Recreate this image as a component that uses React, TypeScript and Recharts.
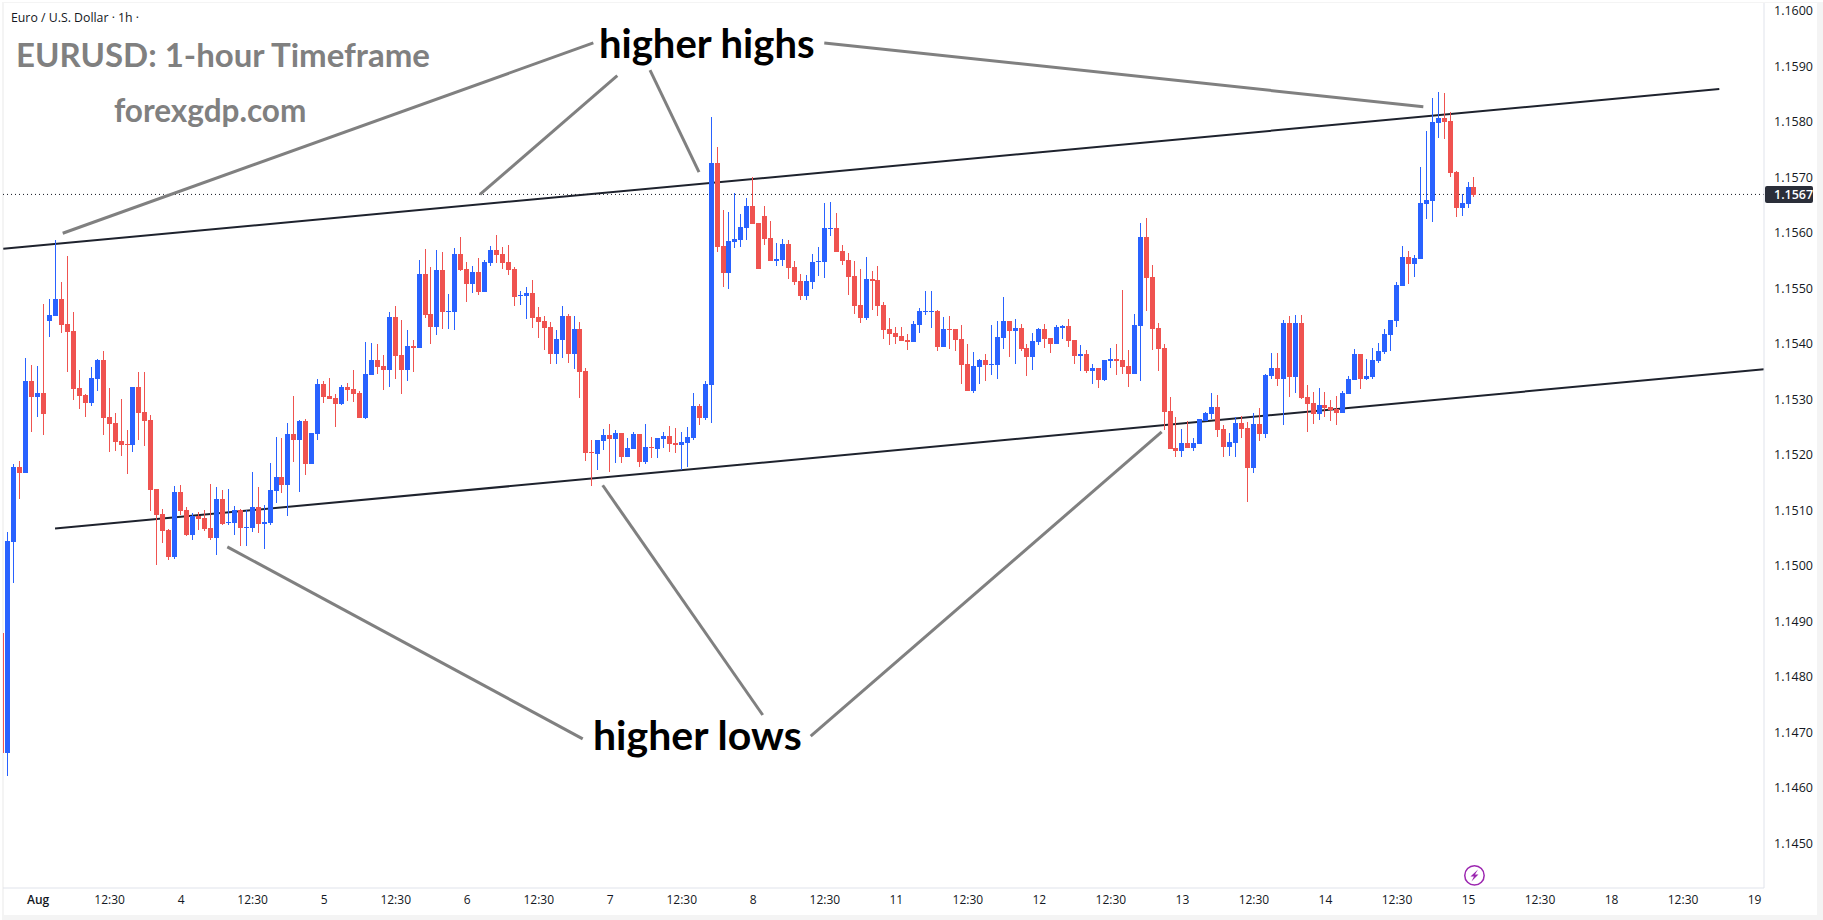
import {
  Bar,
  ComposedChart,
  ReferenceDot,
  ReferenceLine,
  XAxis,
  YAxis,
} from "recharts";

const UP_COLOR = "#2962ff";
const DOWN_COLOR = "#ef5350";
const TEXT_COLOR = "#131722";
const AXIS_COLOR = "#e0e3eb";
const NOTE_COLOR = "#808080";
const UI_FONT = "'Open Sans', sans-serif";
const NOTE_FONT = "Lato, sans-serif";

// candles, first one is half cut off by the left edge of the pane
const opens = [
  1.14879, 1.14662, 1.15043, 1.15178, 1.15167, 1.15333, 1.15304, 1.15311, 1.15441, 1.1545,
  1.15481, 1.15435, 1.15423, 1.1532, 1.15308, 1.15293, 1.15336, 1.15371, 1.15268, 1.15257,
  1.15225, 1.15219, 1.15218, 1.15322, 1.15277, 1.15263, 1.15138, 1.15093, 1.15064, 1.15016,
  1.15133, 1.151, 1.15055, 1.1509, 1.15086, 1.15068, 1.1505, 1.1512, 1.15077, 1.15077,
  1.151, 1.15068, 1.15068, 1.15106, 1.15075, 1.15077, 1.15135, 1.1516, 1.15145, 1.15237,
  1.15226, 1.15261, 1.15183, 1.15237, 1.15327, 1.15306, 1.15302, 1.15291, 1.15322, 1.15318,
  1.15311, 1.15266, 1.15344, 1.15371, 1.1536, 1.15353, 1.15448, 1.1538, 1.15353, 1.15396,
  1.15392, 1.15526, 1.15454, 1.1543, 1.15533, 1.15457, 1.15457, 1.15562, 1.15535, 1.15508,
  1.15529, 1.15493, 1.15545, 1.15569, 1.15562, 1.15547, 1.15535, 1.15486, 1.15486, 1.15491,
  1.15448, 1.15441, 1.1543, 1.15381, 1.15407, 1.1545, 1.15381, 1.15427, 1.15351, 1.15205,
  1.15201, 1.15225, 1.15236, 1.15228, 1.15239, 1.15196, 1.1521, 1.15237, 1.15187, 1.15214,
  1.1521, 1.15228, 1.15234, 1.15221, 1.15218, 1.15221, 1.1523, 1.15288, 1.15266, 1.15326,
  1.15726, 1.15576, 1.15527, 1.15583, 1.15587, 1.15609, 1.15648, 1.15618, 1.1563, 1.1559,
  1.15549, 1.15551, 1.1558, 1.15538, 1.15513, 1.15486, 1.15511, 1.15547, 1.15547, 1.15607,
  1.15609, 1.15567, 1.15551, 1.15522, 1.1547, 1.15446, 1.15517, 1.15515, 1.1547, 1.15427,
  1.15419, 1.15414, 1.15407, 1.15403, 1.15434, 1.15457, 1.15457, 1.15459, 1.15394, 1.15427,
  1.15427, 1.15409, 1.15363, 1.15315, 1.15358, 1.15371, 1.15362, 1.15362, 1.1541, 1.15441,
  1.15423, 1.15428, 1.15392, 1.15376, 1.15403, 1.15427, 1.1541, 1.154, 1.15428, 1.15432,
  1.15407, 1.15378, 1.15381, 1.15351, 1.15356, 1.15335, 1.15369, 1.15372, 1.15371, 1.1536,
  1.15345, 1.15432, 1.15592, 1.1552, 1.15428, 1.15392, 1.15279, 1.15212, 1.15207, 1.15221,
  1.15212, 1.15219, 1.15261, 1.15273, 1.15286, 1.15246, 1.15214, 1.15221, 1.15257, 1.15248,
  1.15176, 1.15255, 1.15237, 1.15342, 1.15356, 1.15336, 1.15437, 1.1534, 1.15437, 1.15304,
  1.15293, 1.15273, 1.15289, 1.15286, 1.15282, 1.15275, 1.15309, 1.15335, 1.15381, 1.15336,
  1.1534, 1.15369, 1.15385, 1.15416, 1.15441, 1.15504, 1.15556, 1.15544, 1.15553, 1.15652,
  1.15657, 1.15798, 1.15807, 1.15801, 1.15709, 1.15645, 1.15652, 1.15682,
];

const highs = [
  1.14879, 1.15061, 1.15183, 1.15189, 1.15374, 1.15362, 1.1536, 1.15472, 1.15481, 1.15587,
  1.15511, 1.15558, 1.15457, 1.15353, 1.15309, 1.15358, 1.15372, 1.15387, 1.1532, 1.15275,
  1.153, 1.15245, 1.15322, 1.15349, 1.15349, 1.15272, 1.15138, 1.15102, 1.15066, 1.15144,
  1.15145, 1.15106, 1.15095, 1.15097, 1.151, 1.15147, 1.15142, 1.15136, 1.15138, 1.15108,
  1.15102, 1.151, 1.15169, 1.15142, 1.15109, 1.15185, 1.15232, 1.1523, 1.15257, 1.15306,
  1.15263, 1.15264, 1.15239, 1.15336, 1.15333, 1.15338, 1.15309, 1.15326, 1.15329, 1.15353,
  1.15315, 1.15403, 1.15401, 1.15399, 1.1538, 1.15457, 1.15468, 1.15443, 1.15425, 1.15407,
  1.15551, 1.15571, 1.15538, 1.15569, 1.15565, 1.1549, 1.15572, 1.15592, 1.15547, 1.1554,
  1.15554, 1.15551, 1.15576, 1.15596, 1.15574, 1.15578, 1.15538, 1.15495, 1.15502, 1.15515,
  1.15466, 1.1545, 1.15439, 1.15425, 1.15468, 1.15454, 1.1545, 1.15439, 1.15356, 1.15227,
  1.15227, 1.15246, 1.15255, 1.15245, 1.15239, 1.1523, 1.15241, 1.15237, 1.15255, 1.15232,
  1.1523, 1.15241, 1.15252, 1.15248, 1.15241, 1.1525, 1.15311, 1.15291, 1.15333, 1.15809,
  1.15754, 1.15641, 1.15637, 1.15672, 1.15634, 1.15663, 1.157, 1.15618, 1.15648, 1.15621,
  1.15581, 1.15589, 1.15587, 1.15549, 1.15526, 1.15524, 1.15562, 1.15574, 1.15654, 1.15655,
  1.15636, 1.15578, 1.15563, 1.15549, 1.15535, 1.15556, 1.15531, 1.1554, 1.15475, 1.15446,
  1.1543, 1.1543, 1.15418, 1.15441, 1.15464, 1.15495, 1.15495, 1.15461, 1.15448, 1.1545,
  1.15427, 1.15434, 1.154, 1.15385, 1.15372, 1.15381, 1.15434, 1.15441, 1.15484, 1.15441,
  1.15444, 1.15436, 1.154, 1.15419, 1.15428, 1.15436, 1.1541, 1.15434, 1.15434, 1.15444,
  1.15407, 1.15398, 1.15389, 1.15363, 1.15356, 1.15371, 1.15392, 1.154, 1.15497, 1.15389,
  1.15453, 1.15617, 1.15626, 1.15542, 1.15437, 1.154, 1.15304, 1.15268, 1.15246, 1.1526,
  1.1523, 1.15264, 1.15277, 1.15311, 1.15308, 1.15253, 1.15239, 1.15268, 1.1527, 1.15259,
  1.15275, 1.15284, 1.15345, 1.15383, 1.15383, 1.15443, 1.1545, 1.15452, 1.15452, 1.15326,
  1.15313, 1.1532, 1.15313, 1.15299, 1.15306, 1.15315, 1.15342, 1.1539, 1.15381, 1.15372,
  1.15392, 1.15401, 1.15426, 1.15443, 1.15511, 1.15576, 1.15567, 1.1556, 1.15718, 1.15783,
  1.15843, 1.15854, 1.15852, 1.15817, 1.15711, 1.1567, 1.15691, 1.157,
];

const lows = [
  1.14662, 1.14622, 1.14969, 1.15121, 1.15167, 1.15241, 1.15268, 1.15236, 1.15412, 1.1545,
  1.15419, 1.15349, 1.15299, 1.15282, 1.15268, 1.15288, 1.15315, 1.15236, 1.15205, 1.15207,
  1.15198, 1.15165, 1.15205, 1.15226, 1.15216, 1.15099, 1.15001, 1.15041, 1.1501, 1.15012,
  1.15091, 1.15054, 1.15046, 1.15064, 1.15063, 1.15046, 1.15019, 1.15073, 1.15073, 1.15055,
  1.15035, 1.15035, 1.15061, 1.15059, 1.1503, 1.15073, 1.15113, 1.15131, 1.1509, 1.15187,
  1.15133, 1.15163, 1.15183, 1.15226, 1.15293, 1.153, 1.1525, 1.15289, 1.15297, 1.15295,
  1.15266, 1.15264, 1.15344, 1.15345, 1.15317, 1.15322, 1.15336, 1.15309, 1.15333, 1.15349,
  1.15392, 1.15446, 1.15399, 1.15416, 1.15427, 1.15427, 1.15425, 1.15531, 1.15475, 1.15491,
  1.15488, 1.15493, 1.1554, 1.15545, 1.15535, 1.15524, 1.15468, 1.1547, 1.15445, 1.15428,
  1.1541, 1.15389, 1.15363, 1.15363, 1.15374, 1.15365, 1.15354, 1.15302, 1.15189, 1.15144,
  1.15172, 1.15209, 1.15169, 1.15185, 1.15185, 1.15196, 1.1521, 1.15178, 1.15183, 1.15194,
  1.15194, 1.15212, 1.15205, 1.15203, 1.15172, 1.15178, 1.15227, 1.15253, 1.15262, 1.15257,
  1.15565, 1.15502, 1.15499, 1.15572, 1.15574, 1.15587, 1.15616, 1.15535, 1.15578, 1.15549,
  1.1554, 1.1554, 1.15517, 1.15506, 1.15479, 1.15479, 1.15499, 1.15522, 1.15518, 1.15594,
  1.15565, 1.15542, 1.15488, 1.15453, 1.15437, 1.15443, 1.15461, 1.1545, 1.15409, 1.15398,
  1.154, 1.15405, 1.15389, 1.15403, 1.15419, 1.15452, 1.15428, 1.15387, 1.15394, 1.1539,
  1.15387, 1.15327, 1.15315, 1.15311, 1.15327, 1.15333, 1.15344, 1.15336, 1.1539, 1.15376,
  1.15363, 1.15387, 1.15342, 1.15353, 1.15398, 1.15392, 1.15383, 1.154, 1.15409, 1.15394,
  1.15363, 1.15351, 1.15347, 1.15327, 1.1532, 1.15333, 1.15356, 1.15344, 1.15345, 1.15322,
  1.15345, 1.15333, 1.15459, 1.15389, 1.15351, 1.15245, 1.1521, 1.15196, 1.15196, 1.15212,
  1.15207, 1.15219, 1.15261, 1.15264, 1.15232, 1.15196, 1.15198, 1.15196, 1.1523, 1.15115,
  1.15167, 1.15225, 1.1523, 1.15336, 1.15324, 1.15253, 1.15304, 1.15311, 1.153, 1.15241,
  1.15255, 1.15262, 1.15268, 1.15261, 1.15253, 1.15275, 1.15309, 1.15335, 1.15318, 1.15335,
  1.15336, 1.15365, 1.15381, 1.15387, 1.1543, 1.15504, 1.15508, 1.1552, 1.15553, 1.15625,
  1.15619, 1.15771, 1.15769, 1.157, 1.15628, 1.1563, 1.15645, 1.15664,
];

const closes = [
  1.14662, 1.15045, 1.15178, 1.15167, 1.15333, 1.15304, 1.15311, 1.15273, 1.15452, 1.15481,
  1.15434, 1.15421, 1.15318, 1.15306, 1.15293, 1.15338, 1.15371, 1.15266, 1.15255, 1.15223,
  1.15218, 1.15218, 1.15322, 1.15275, 1.15261, 1.15136, 1.15091, 1.15063, 1.15016, 1.15133,
  1.15099, 1.15055, 1.1509, 1.15084, 1.15066, 1.1505, 1.1512, 1.15075, 1.15079, 1.151,
  1.15068, 1.1507, 1.15106, 1.15075, 1.15079, 1.15136, 1.1516, 1.15145, 1.15237, 1.15226,
  1.15261, 1.15183, 1.15239, 1.15327, 1.15304, 1.153, 1.15291, 1.15322, 1.15317, 1.15309,
  1.15266, 1.15345, 1.15371, 1.15358, 1.15353, 1.15448, 1.15378, 1.15353, 1.15396, 1.15392,
  1.15526, 1.15452, 1.1543, 1.15533, 1.15457, 1.15459, 1.15562, 1.15533, 1.15508, 1.15529,
  1.15493, 1.15547, 1.15569, 1.1556, 1.15545, 1.15533, 1.15484, 1.15488, 1.15491, 1.15446,
  1.15439, 1.15428, 1.15381, 1.15409, 1.1545, 1.15381, 1.15427, 1.15349, 1.15203, 1.15203,
  1.15227, 1.15236, 1.15228, 1.15239, 1.15196, 1.15212, 1.15237, 1.15187, 1.15214, 1.15212,
  1.1523, 1.15234, 1.15219, 1.15218, 1.15223, 1.15232, 1.15288, 1.15266, 1.15327, 1.15726,
  1.15574, 1.15527, 1.15585, 1.15589, 1.1561, 1.15648, 1.15616, 1.15535, 1.15589, 1.15549,
  1.15553, 1.1558, 1.15536, 1.15511, 1.15486, 1.15513, 1.15547, 1.15549, 1.15609, 1.15609,
  1.15565, 1.15549, 1.1552, 1.15468, 1.15446, 1.15517, 1.15513, 1.15468, 1.15425, 1.15418,
  1.15412, 1.15405, 1.15403, 1.15436, 1.15459, 1.15459, 1.15459, 1.15394, 1.15427, 1.15425,
  1.15407, 1.15362, 1.15315, 1.1536, 1.15371, 1.15362, 1.15363, 1.15412, 1.15441, 1.15423,
  1.15428, 1.1539, 1.15376, 1.15405, 1.15427, 1.15409, 1.154, 1.1543, 1.15432, 1.15405,
  1.15378, 1.15381, 1.15351, 1.15356, 1.15335, 1.15371, 1.15372, 1.15369, 1.15358, 1.15345,
  1.15434, 1.15592, 1.15518, 1.15427, 1.1539, 1.15277, 1.1521, 1.15207, 1.15221, 1.15212,
  1.15221, 1.15264, 1.15275, 1.15286, 1.15244, 1.15214, 1.15223, 1.15257, 1.15246, 1.15176,
  1.15255, 1.15237, 1.15344, 1.15356, 1.15336, 1.15437, 1.1534, 1.15437, 1.15302, 1.15291,
  1.15273, 1.15289, 1.15284, 1.1528, 1.15275, 1.15311, 1.15336, 1.15381, 1.15336, 1.15342,
  1.15371, 1.15387, 1.15417, 1.15443, 1.15506, 1.15556, 1.15544, 1.15554, 1.15654, 1.15659,
  1.15799, 1.15807, 1.15799, 1.15708, 1.15645, 1.15654, 1.15682, 1.15668,
];

const FIRST_BAR = -1;

const xTickBars = [
  5, 17, 29, 41, 53, 65, 77, 89, 101, 113, 125, 137, 149, 161, 173, 185, 197, 209, 221, 233, 245,
  257, 269, 281, 293,
];
const xTickLabels = [
  "Aug", "12:30", "4", "12:30", "5", "12:30", "6", "12:30", "7", "12:30", "8", "12:30", "11",
  "12:30", "12", "12:30", "13", "12:30", "14", "12:30", "15", "12:30", "18", "12:30", "19",
];
const priceTicks = [
  1.16, 1.159, 1.158, 1.157, 1.156, 1.155, 1.154, 1.153, 1.152, 1.151, 1.15, 1.149, 1.148, 1.147,
  1.146, 1.145,
];

const lastPrice = 1.15669;

// trend lines and the grey pointers, [bar, price, bar, price]
const trendLines = [
  [-0.84, 1.15571, 287.08, 1.15859],
  [7.84, 1.15067, 294.58, 1.15354],
];
const pointerLines = [
  [9.13, 1.15599, 98.16, 1.15942],
  [79.15, 1.15669, 102.18, 1.15883],
  [107.67, 1.15893, 115.89, 1.15709],
  [136.91, 1.15942, 237.42, 1.15827],
  [36.75, 1.15034, 96.38, 1.14688],
  [99.73, 1.15145, 126.58, 1.14731],
  [193.52, 1.15241, 134.63, 1.14693],
];

const candles = opens.map((open, k) => ({
  bar: k + FIRST_BAR,
  open,
  close: closes[k],
  high: highs[k],
  low: lows[k],
  range: [lows[k], highs[k]],
}));

function Candle(props: any) {
  const { x, y, width, height, payload } = props;
  const perUnit = height / (payload.high - payload.low);
  const toY = (v: number) => y + (payload.high - v) * perUnit;
  const up = payload.close >= payload.open;
  const color = up ? UP_COLOR : DOWN_COLOR;
  const left = Math.round(x + width / 2 - 2.5);
  const top = Math.round(toY(Math.max(payload.open, payload.close)));
  const bottom = Math.round(toY(Math.min(payload.open, payload.close)));
  return (
    <g shapeRendering="crispEdges">
      <rect x={left + 2} y={y} width={1} height={height} fill={color} />
      <rect x={left} y={top} width={5} height={Math.max(bottom - top, 1)} fill={color} />
    </g>
  );
}

function DateTick(props: any) {
  const { x, y, payload } = props;
  const label = xTickLabels[xTickBars.indexOf(payload.value)];
  return (
    <text
      x={x}
      y={y}
      textAnchor="middle"
      fontFamily={UI_FONT}
      fontSize={12}
      fontWeight={label === "Aug" ? 600 : 400}
      fill={TEXT_COLOR}
    >
      {label}
    </text>
  );
}

function PriceTag(props: any) {
  const { viewBox } = props;
  const left = viewBox.x + viewBox.width + 1;
  return (
    <g>
      <rect x={left} y={viewBox.y - 8.5} width={48} height={17} rx={2} fill="#2a2e39" />
      <text
        x={left + 9}
        y={viewBox.y + 4.5}
        fontFamily={UI_FONT}
        fontSize={12.5}
        fontWeight={600}
        fill="#ffffff"
      >
        {lastPrice.toFixed(4)}
      </text>
    </g>
  );
}

function AlertIcon(props: any) {
  const { cx, cy } = props;
  return (
    <g>
      <circle cx={cx} cy={cy} r={9.7} fill="#ffffff" stroke="#9c27b0" strokeWidth={1.5} />
      <path
        d={`M${cx + 3.5} ${cy - 6} L${cx - 4} ${cy + 1} L${cx - 0.5} ${cy + 1} L${cx - 3} ${cy + 6} L${cx + 4} ${cy - 1} L${cx + 0.5} ${cy - 1} Z`}
        fill="#9c27b0"
      />
    </g>
  );
}

export default function App() {
  return (
    <div
      style={{
        position: "absolute",
        left: 0,
        top: 0,
        width: 1823,
        height: 920,
        background: "#ffffff",
      }}
    >
      <div
        style={{
          position: "absolute",
          left: 2,
          top: 2,
          width: 1821,
          height: 918,
          background: "#f4f4f4",
        }}
      />
      <div
        style={{
          position: "absolute",
          left: 4,
          top: 3,
          width: 1813,
          height: 912,
          background: "#ffffff",
        }}
      />
      <div style={{ position: "absolute", left: 0, top: 0 }}>
        <ComposedChart
          width={1823}
          height={920}
          data={candles}
          margin={{ top: 3, right: 6, bottom: 5, left: 3 }}
        >
          <XAxis
            dataKey="bar"
            type="number"
            domain={[-0.889, 294.58]}
            allowDataOverflow
            ticks={xTickBars}
            interval={0}
            height={27}
            stroke={AXIS_COLOR}
            tickLine={false}
            tick={<DateTick />}
            tickMargin={10}
          />
          <YAxis
            orientation="right"
            type="number"
            domain={[1.144193, 1.160139]}
            allowDataOverflow
            ticks={priceTicks}
            interval={0}
            width={53}
            stroke={AXIS_COLOR}
            tickLine={false}
            tickMargin={4}
            tickFormatter={(v: number) => v.toFixed(4)}
            tick={{ fill: TEXT_COLOR, fontSize: 12.5, fontFamily: UI_FONT }}
          />

          {trendLines.map((l, k) => (
            <ReferenceLine
              key={k}
              segment={[
                { x: l[0], y: l[1] },
                { x: l[2], y: l[3] },
              ]}
              stroke="#1e222d"
              strokeWidth={2}
              zIndex={100}
            />
          ))}

          <ReferenceLine
            y={lastPrice}
            stroke={TEXT_COLOR}
            strokeDasharray="1 3"
            zIndex={100}
            label={<PriceTag />}
          />

          <Bar
            dataKey="range"
            barSize={5}
            isAnimationActive={false}
            shape={<Candle />}
          />

          {pointerLines.map((l, k) => (
            <ReferenceLine
              key={k}
              segment={[
                { x: l[0], y: l[1] },
                { x: l[2], y: l[3] },
              ]}
              stroke={NOTE_COLOR}
              strokeWidth={3}
            />
          ))}

          <ReferenceDot x={246} y={1.14442} shape={<AlertIcon />} />

          <text x={11} y={22} fontFamily={UI_FONT} fontSize={12.3} fill={TEXT_COLOR}>
            Euro / U.S. Dollar · 1h ·
          </text>
          <text x={16} y={66.5} fontFamily={NOTE_FONT} fontWeight={700} fontSize={33} fill={NOTE_COLOR}>
            EURUSD: 1-hour Timeframe
          </text>
          <text x={114} y={121.5} fontFamily={NOTE_FONT} fontWeight={700} fontSize={31.5} fill={NOTE_COLOR}>
            forexgdp.com
          </text>
          <text x={599} y={58} fontFamily={NOTE_FONT} fontWeight={700} fontSize={40} fill="#000000">
            higher highs
          </text>
          <text x={593} y={750} fontFamily={NOTE_FONT} fontWeight={700} fontSize={41} fill="#000000">
            higher lows
          </text>
        </ComposedChart>
      </div>
    </div>
  );
}
